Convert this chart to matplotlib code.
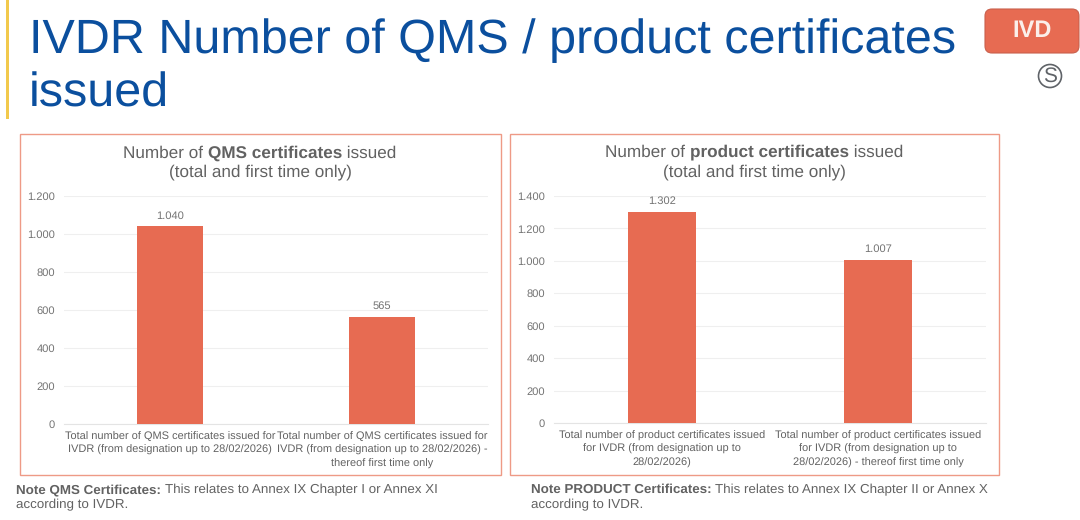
import matplotlib
matplotlib.use('Agg')
import matplotlib.pyplot as plt
from matplotlib.patches import FancyBboxPatch, Rectangle, Circle

plt.rcParams['font.family'] = ['Liberation Sans', 'DejaVu Sans']
plt.rcParams['text.hinting'] = 'no_hinting'

W, H = 1080, 520

# data
qms_labels = ['Total number of QMS certificates issued for\nIVDR (from designation up to 28/02/2026)',
              'Total number of QMS certificates issued for\nIVDR (from designation up to 28/02/2026) -\nthereof first time only']
qms_values = [1040, 565]
qms_ticks = [0, 200, 400, 600, 800, 1000, 1200]
qms_ticklabels = ['0', '200', '400', '600', '800', '1.000', '1.200']
qms_barlabels = ['1.040', '565']

prod_labels = ['Total number of product certificates issued\nfor IVDR (from designation up to\n28/02/2026)',
               'Total number of product certificates issued\nfor IVDR (from designation up to\n28/02/2026) - thereof first time only']
prod_values = [1302, 1007]
prod_ticks = [0, 200, 400, 600, 800, 1000, 1200, 1400]
prod_ticklabels = ['0', '200', '400', '600', '800', '1.000', '1.200', '1.400']
prod_barlabels = ['1.302', '1.007']

BAR = '#E76B52'
GREY = '#626262'
TICK = '#737373'
BLUE = '#0B4F9E'
FRAME = '#EE9A86'

fig = plt.figure(figsize=(W / 100, H / 100), dpi=100, facecolor='white')

# full-figure overlay in pixel coordinates, y going down
bg = fig.add_axes([0, 0, 1, 1])
bg.set_xlim(0, W)
bg.set_ylim(H, 0)
bg.axis('off')


def rich(x, y, parts, size, color, center=False):
    # parts are (text, weight) pieces on one line
    rend = fig.canvas.get_renderer()
    items = [bg.text(0, y, t, fontsize=size, color=color, fontweight=w, va='center', ha='left')
             for t, w in parts]
    widths = [item.get_window_extent(rend).width for item in items]
    x0 = x - sum(widths) / 2 if center else x
    for item, wd in zip(items, widths):
        item.set_x(x0)
        x0 += wd


# slide furniture
bg.add_patch(Rectangle((5.5, 0), 3, 119, color='#F2C94C', lw=0))
bg.text(29, 41, 'IVDR Number of QMS / product certificates', fontsize=34.9, color=BLUE, va='center', ha='left')
bg.text(29, 94, 'issued', fontsize=34.9, color=BLUE, va='center', ha='left')
bg.add_patch(FancyBboxPatch((985, 9), 94, 44, boxstyle='round,pad=0,rounding_size=7',
                            fc=BAR, ec='#C9604C', lw=0.8))
bg.text(1032, 31, 'IVD', fontsize=17, color='#FBEFEA', fontweight='bold', ha='center', va='center')
bg.add_patch(Circle((1050, 76), 11.5, fc='none', ec='#5F6368', lw=1.2))
bg.text(1050, 76.5, 'S', fontsize=15, color='#5F6368', ha='center', va='center')

# chart frames
bg.add_patch(Rectangle((20, 134), 481, 341, fc='white', ec=FRAME, lw=1))
bg.add_patch(Rectangle((510, 134), 489, 341, fc='white', ec=FRAME, lw=1))

rich(260, 153, [('Number of ', 'normal'), ('QMS certificates', 'bold'), (' issued', 'normal')], 12.3, GREY, center=True)
bg.text(260, 172, '(total and first time only)', fontsize=12.3, color=GREY, ha='center', va='center')
rich(754, 152, [('Number of ', 'normal'), ('product certificates', 'bold'), (' issued', 'normal')], 12.3, GREY, center=True)
bg.text(754, 172, '(total and first time only)', fontsize=12.3, color=GREY, ha='center', va='center')

# notes
rich(16, 490, [('Note QMS Certificates: ', 'bold'), ('This relates to Annex IX Chapter I or Annex XI', 'normal')], 9.65, GREY)
bg.text(16, 505, 'according to IVDR.', fontsize=9.65, color=GREY, va='center')
rich(531, 490, [('Note PRODUCT Certificates: ', 'bold'), ('This relates to Annex IX Chapter II or Annex X', 'normal')], 9.65, GREY)
bg.text(531, 505, 'according to IVDR.', fontsize=9.65, color=GREY, va='center')


def draw_chart(box, labels, values, ticks, ticklabels, barlabels):
    x0, x1, ytop, ybot = box
    ax = fig.add_axes([x0 / W, 1 - ybot / H, (x1 - x0) / W, (ybot - ytop) / H])
    ax.patch.set_alpha(0)
    pos = range(len(values))
    bars = ax.bar(pos, values, width=0.316, color=BAR, zorder=3)
    ax.bar_label(bars, labels=barlabels, fontsize=8, color=TICK, padding=4)
    ax.set_xlim(-0.5, 1.5)
    ax.set_ylim(ticks[0], ticks[-1])
    ax.set_yticks(ticks, ticklabels)
    ax.set_xticks(list(pos), labels)
    ax.tick_params(axis='y', length=0, labelsize=8, labelcolor=TICK, pad=6.6)
    ax.tick_params(axis='x', length=0, labelsize=7.9, labelcolor=GREY, pad=5.6)
    ax.grid(axis='y', color='#EFEFEF', lw=0.8, zorder=0)
    for lab in ax.get_xticklabels():
        lab.set_linespacing(1.4)
    for s in ['top', 'right', 'left']:
        ax.spines[s].set_visible(False)
    ax.spines['bottom'].set_color('#E4E4E4')
    ax.spines['bottom'].set_linewidth(0.8)
    return ax


draw_chart((64, 488, 196, 424), qms_labels, qms_values, qms_ticks, qms_ticklabels, qms_barlabels)
draw_chart((554, 986, 196, 423), prod_labels, prod_values, prod_ticks, prod_ticklabels, prod_barlabels)

fig.savefig('out.png', dpi=100)
